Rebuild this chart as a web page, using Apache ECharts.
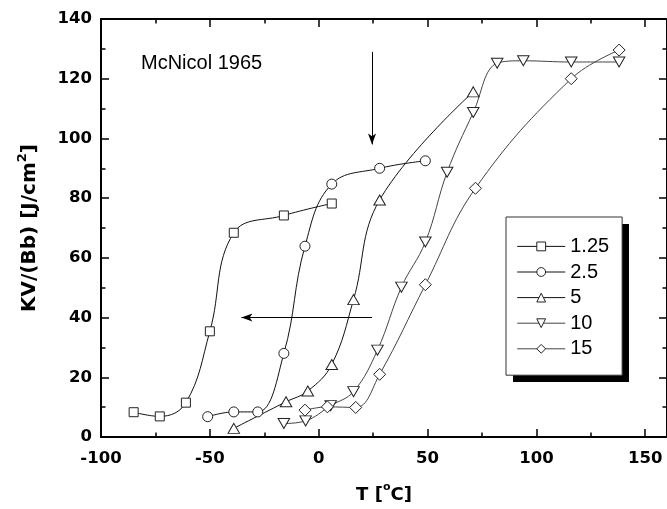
<!DOCTYPE html>
<html>
<head>
<meta charset="utf-8">
<script src="https://cdn.jsdelivr.net/npm/echarts@6/dist/echarts.min.js"></script>
<style>html,body{margin:0;padding:0;background:#fff}#c{width:667px;height:509px}</style>
</head>
<body>
<div id="c"></div>
<script>
// ---- data (T [°C], KV/(Bb) [J/cm²]) ----
const seriesNames = ['1.25', '2.5', '5', '10', '15'];
const s125 = [[-85,8.3],[-73,6.9],[-61,11.5],[-50,35.4],[-39,68.4],[-16,74.2],[6,78.2]];
const s25  = [[-51,6.8],[-39,8.4],[-28,8.4],[-16,28],[-6.3,63.9],[6,84.7],[28,90],[49,92.5]];
const s5   = [[-39,2.9],[-15,11.8],[-5,15.4],[6,24.3],[16,46],[28,79.4],[71,115.6]];
const s10  = [[-16,4.5],[-6,5.4],[5.5,10.5],[16,15.2],[27,29.1],[38,50.2],[49,65.3],[59,88.7],[71,108.7],[82,125.2],[94,126],[116,125.6],[138,125.6]];
const s15  = [[-6.3,9],[4,10.1],[17,9.9],[28,21],[49,51],[72,83.3],[116,120],[138,129.6]];
const arrowDown = [[24.5,129],[24.5,98]];
const arrowLeft = [[24.5,40],[-35.5,40]];
const annotation = 'McNicol 1965';

const chart = echarts.init(document.getElementById('c'), null, {renderer:'canvas'});
const tickFont = {fontFamily:'DejaVu Sans', fontWeight:'bold', fontSize:16.5, color:'#000'};
const lineCol = '#000';
const X0 = -100, X1 = 160;

function xAx(pos, interval, len, labels, line) {
  return {
    type:'value', position:pos, min:X0, max:X1, interval:interval,
    gridIndex:0,
    axisLine:{show:line, onZero:false, lineStyle:{color:lineCol, width:2}},
    axisTick:{show:true, inside:true, length:len, lineStyle:{color:lineCol, width:1.5}},
    axisLabel:{show:labels, margin:13, showMaxLabel:false, ...tickFont},
    splitLine:{show:false}
  };
}
function yAx(pos, labels) {
  return {
    type:'value', position:pos, min:0, max:140, interval:20,
    axisLine:{show:true, onZero:false, lineStyle:{color:lineCol, width:2}},
    axisTick:{show:true, inside:true, length:8, lineStyle:{color:lineCol, width:1.5}},
    minorTick:{show:true, splitNumber:2, length:4.5, lineStyle:{color:lineCol, width:1.5}},
    axisLabel:{show:labels, margin:9, ...tickFont},
    splitLine:{show:false}, minorSplitLine:{show:false}
  };
}
const xAxes = [xAx('bottom',50,8,true,true), xAx('bottom',25,4.5,false,false), xAx('top',50,8,false,true), xAx('top',25,4.5,false,false)];
xAxes[0].name = '{a|T [}{s|o}{a|C]}';
xAxes[0].nameLocation = 'middle';
xAxes[0].nameGap = 45;
xAxes[0].nameTextStyle = {rich:{
  a:{fontFamily:'DejaVu Sans', fontWeight:'bold', fontSize:18, lineHeight:26, color:'#000'},
  s:{fontFamily:'DejaVu Sans', fontWeight:'bold', fontSize:11, lineHeight:12, verticalAlign:'top', color:'#000'}
}};
const yAxes = [yAx('left',true), yAx('right',false)];
yAxes[0].name = '{a|KV/(Bb) [J/cm}{s|2}{a|]}';
yAxes[0].nameLocation = 'middle';
yAxes[0].nameGap = 57;
yAxes[0].nameTextStyle = {rich:{
  a:{fontFamily:'DejaVu Sans', fontWeight:'bold', fontSize:20, lineHeight:28, color:'#000'},
  s:{fontFamily:'DejaVu Sans', fontWeight:'bold', fontSize:13, lineHeight:14, verticalAlign:'top', color:'#000'}
}};

const symbols = ['rect','circle','triangle','path://M0,0 L10,0 L5,10 Z','diamond'];
const sizes = [[9,9],[10,10],[11.5,10],[11.5,10],[12,12]];
const lineColors = ['#111','#111','#111','#444','#444'];
const datasets = [s125, s25, s5, s10, s15];

const series = datasets.map((d,i)=>({
  name: seriesNames[i], type:'line', data:d, smooth:0.4,
  xAxisIndex:0, yAxisIndex:0,
  symbol: symbols[i], symbolSize: sizes[i], showAllSymbol:true,
  lineStyle:{color:lineColors[i], width:1},
  itemStyle:{color:'#fff', borderColor:'#222', borderWidth:1},
  z: 3
}));
series.push({
  type:'line', data:[], xAxisIndex:0, yAxisIndex:0, silent:true,
  markLine:{
    silent:true, symbol:['none','arrow'], symbolSize:[6,11],
    label:{show:false},
    lineStyle:{color:'#000', width:1, type:'solid'},
    emphasis:{disabled:true},
    data:[
      [{coord:arrowDown[0]},{coord:arrowDown[1]}],
      [{coord:arrowLeft[0]},{coord:arrowLeft[1]}]
    ]
  }
});

chart.setOption({
  animation:false,
  backgroundColor:'#fff',
  title:{text:annotation, left:141, top:53, padding:0,
    textStyle:{fontFamily:'Liberation Sans', fontWeight:'normal', fontSize:20, color:'#000'}},
  grid:{left:101, top:19, width:567.5, height:419.7, containLabel:false},
  xAxis:xAxes, yAxis:yAxes,
  graphic:[{type:'rect', left:513, top:224, z:0, silent:true,
    shape:{width:116, height:158}, style:{fill:'#000'}}],
  legend:{
    orient:'vertical', left:506, top:217, z:10,
    padding:[19.4,13,16.4,10.7], itemGap:5.6,
    itemWidth:48, itemHeight:11,
    backgroundColor:'#fff', borderColor:'#333', borderWidth:1,
    itemStyle:{borderWidth:1, borderColor:'#222', color:'#fff'},
    lineStyle:{width:1},
    textStyle:{fontFamily:'Liberation Sans', fontSize:20, lineHeight:20, color:'#000'},
    data:seriesNames, selectedMode:false
  },
  series:series
});
</script>
</body>
</html>
